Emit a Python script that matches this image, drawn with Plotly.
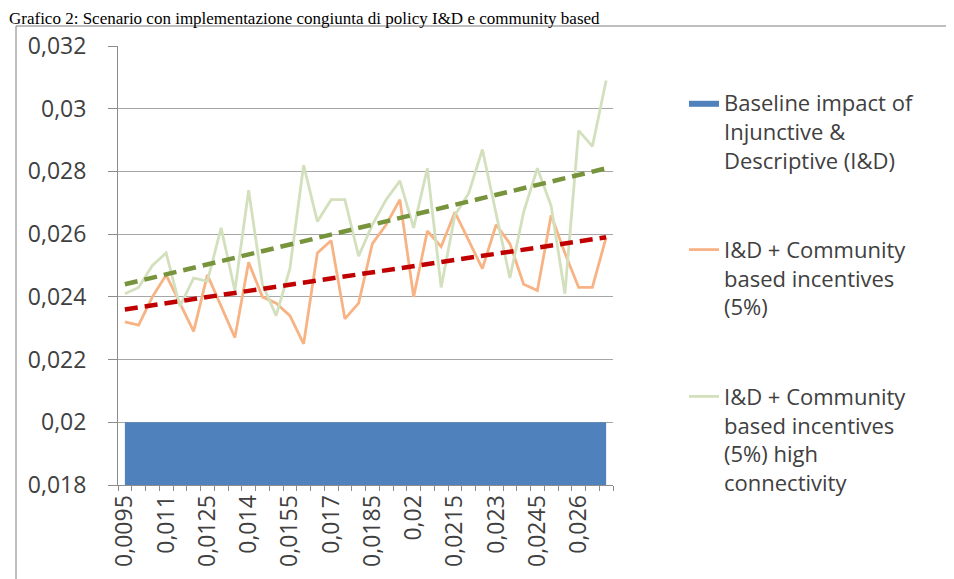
import plotly.graph_objects as go

# ---------------- data ----------------
categories = ["0,0095", "0,01", "0,0105", "0,011", "0,0115", "0,012", "0,0125", "0,013",
              "0,0135", "0,014", "0,0145", "0,015", "0,0155", "0,016", "0,0165", "0,017",
              "0,0175", "0,018", "0,0185", "0,019", "0,0195", "0,02", "0,0205", "0,021",
              "0,0215", "0,022", "0,0225", "0,023", "0,0235", "0,024", "0,0245", "0,025",
              "0,0255", "0,026", "0,0265", "0,027"]

baseline = [0.02, 0.02, 0.02, 0.02, 0.02, 0.02, 0.02, 0.02, 0.02, 0.02, 0.02, 0.02,
            0.02, 0.02, 0.02, 0.02, 0.02, 0.02, 0.02, 0.02, 0.02, 0.02, 0.02, 0.02,
            0.02, 0.02, 0.02, 0.02, 0.02, 0.02, 0.02, 0.02, 0.02, 0.02, 0.02, 0.02]

community_5 = [0.0232, 0.0231, 0.0240, 0.0247, 0.0238, 0.0229, 0.0247, 0.0237,
               0.0227, 0.0251, 0.0240, 0.0238, 0.0234, 0.0225, 0.0254, 0.0258,
               0.0233, 0.0238, 0.0257, 0.0263, 0.0271, 0.0240, 0.0261, 0.0256,
               0.0267, 0.0258, 0.0249, 0.0263, 0.0257, 0.0244, 0.0242, 0.0266,
               0.0254, 0.0243, 0.0243, 0.0259]

community_5_high = [0.0241, 0.0243, 0.0250, 0.0254, 0.0237, 0.0246, 0.0245, 0.0262,
                    0.0242, 0.0274, 0.0244, 0.0234, 0.0249, 0.0282, 0.0264, 0.0271,
                    0.0271, 0.0253, 0.0263, 0.0271, 0.0277, 0.0262, 0.0281, 0.0243,
                    0.0266, 0.0273, 0.0287, 0.0267, 0.0246, 0.0267, 0.0281, 0.0269,
                    0.0241, 0.0293, 0.0288, 0.0309]

# linear trend lines (start / end values)
trend_5 = [0.0236, 0.0259]
trend_5_high = [0.0244, 0.0281]

y_tick_values = [0.018, 0.020, 0.022, 0.024, 0.026, 0.028, 0.030, 0.032]
y_tick_labels = ["0,018", "0,02", "0,022", "0,024", "0,026", "0,028", "0,03", "0,032"]

series_names = [
    "Baseline impact of<br>Injunctive &<br>Descriptive (I&D)",
    "I&D + Community<br>based incentives<br>(5%)",
    "I&D + Community<br>based incentives<br>(5%) high<br>connectivity",
]

title_text = "Grafico 2: Scenario con implementazione congiunta di policy I&D e community based"

# ---------------- figure ----------------
W, H = 954, 579
L, R, T, B = 110, 605, 38, 477          # plot area in pixels
PW, PH = R - L, B - T

def px(x):
    return (x - L) / PW

def py(y):
    return (B - y) / PH

FONT = "Open Sans"
TXT = "#404040"
TICK_SIZE = 23
LEG_SIZE = 22

fig = go.Figure()

fig.add_trace(go.Scatter(
    x=categories, y=baseline, name=series_names[0], mode="lines",
    line=dict(width=0, color="#4F81BD"), fill="tozeroy", fillcolor="#4F81BD",
    legendgroup="g1", hoverinfo="skip"))

fig.add_trace(go.Scatter(
    x=categories, y=community_5, name=series_names[1], mode="lines",
    line=dict(width=2.8, color="#F8B384"), legendgroup="g2"))

fig.add_trace(go.Scatter(
    x=categories, y=community_5_high, name=series_names[2], mode="lines",
    line=dict(width=2.8, color="#D3E0BD"), legendgroup="g3"))

fig.add_trace(go.Scatter(
    x=[categories[0], categories[-1]], y=trend_5, mode="lines", showlegend=False,
    line=dict(width=4.5, color="#C00000", dash="13px,7px")))

fig.add_trace(go.Scatter(
    x=[categories[0], categories[-1]], y=trend_5_high, mode="lines", showlegend=False,
    line=dict(width=4.5, color="#77933C", dash="13px,7px")))

tick_text_x = [c if i % 3 == 0 else "" for i, c in enumerate(categories)]

fig.update_layout(
    width=W, height=H,
    margin=dict(l=L, r=W - R, t=T, b=H - B, pad=0),
    paper_bgcolor="white", plot_bgcolor="white",
    font=dict(family=FONT, size=LEG_SIZE, color=TXT),
    showlegend=True,
    legend=dict(
        x=px(676), y=py(74), xanchor="left", yanchor="top",
        traceorder="grouped", tracegroupgap=58, valign="top",
        font=dict(family=FONT, size=LEG_SIZE, color=TXT),
        bgcolor="rgba(0,0,0,0)", borderwidth=0,
    ),
    xaxis=dict(
        type="category", categoryorder="array", categoryarray=categories,
        range=[-0.5, len(categories) - 0.5],
        tickmode="array", tickvals=categories, ticktext=tick_text_x,
        tickson="boundaries", ticks="outside", ticklen=5, tickcolor="#8C8C8C",
        tickangle=-90, tickfont=dict(family=FONT, size=TICK_SIZE, color=TXT),
        showline=True, linecolor="#8C8C8C", linewidth=1,
        showgrid=False, zeroline=False,
    ),
    yaxis=dict(
        range=[0.018, 0.032],
        tickmode="array", tickvals=y_tick_values, ticktext=y_tick_labels,
        ticks="outside", ticklen=9, tickcolor="#8C8C8C", ticklabelstandoff=17,
        tickfont=dict(family=FONT, size=TICK_SIZE, color=TXT),
        showline=True, linecolor="#8C8C8C", linewidth=1,
        showgrid=True, gridcolor="#A6A6A6", gridwidth=1, zeroline=False,
    ),
)

# chart frame
fig.add_shape(type="rect", xref="paper", yref="paper",
              x0=px(8), x1=px(952), y0=py(600), y1=py(18),
              line=dict(color="#7F7F7F", width=1), fillcolor="rgba(0,0,0,0)", layer="above")

# title (document caption above the chart frame)
fig.add_annotation(text=title_text, xref="paper", yref="paper",
                   x=px(0), y=py(0), xanchor="left", yanchor="top",
                   showarrow=False, borderpad=0,
                   font=dict(family="Liberation Serif", size=17, color="#000000"))

fig.write_html("out.html")
